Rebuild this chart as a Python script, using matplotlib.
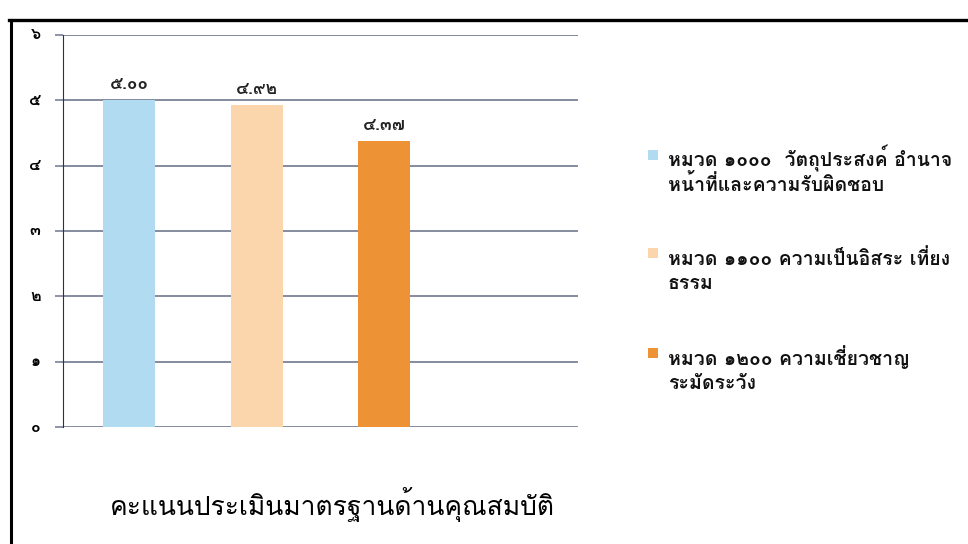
import matplotlib
matplotlib.use("Agg")
import matplotlib.pyplot as plt
from matplotlib import font_manager
from matplotlib.lines import Line2D
from matplotlib.patches import Rectangle

# ข้อมูลของกราฟ
หมวด = [
    "หมวด ๑๐๐๐  วัตถุประสงค์ อำนาจ\nหน้าที่และความรับผิดชอบ",
    "หมวด ๑๑๐๐ ความเป็นอิสระ เที่ยง\nธรรม",
    "หมวด ๑๒๐๐ ความเชี่ยวชาญ\nระมัดระวัง",
]
คะแนน = [5.00, 4.92, 4.37]
สี = ["#B1DBF1", "#FBD6AC", "#EE9236"]
แกน_y = [0, 1, 2, 3, 4, 5, 6]
ชื่อกราฟ = "คะแนนประเมินมาตรฐานด้านคุณสมบัติ"

thai_digits = str.maketrans("0123456789", "๐๑๒๓๔๕๖๗๘๙")

# เลือกฟอนต์ไทยที่มีอยู่ในเครื่อง
names = {f.name for f in font_manager.fontManager.ttflist}
prefs = ["Tahoma", "Loma", "Garuda", "Noto Sans Thai", "Sarabun", "Bai Jamjuree"]
thai_font = next((p for p in prefs if p in names), "DejaVu Sans")
plt.rcParams["font.family"] = [thai_font, "DejaVu Sans"]

W, H = 968, 544
fig = plt.figure(figsize=(W / 100, H / 100), dpi=100)
ax = fig.add_axes([0.065, 0.215, 0.532, 0.721])

x = list(range(len(คะแนน)))
ax.bar(x, คะแนน, width=0.41, color=สี, zorder=3)
for xi, v in zip(x, คะแนน):
    ax.text(xi, v + 0.24, f"{v:.2f}".translate(thai_digits), ha="center",
            va="center", fontsize=12.5, fontweight="bold", color="#222222")

ax.set_xlim(-0.52, 3.52)
ax.set_ylim(0, 6)
ax.set_yticks(แกน_y)
ax.set_yticklabels([str(t).translate(thai_digits) for t in แกน_y],
                   va="center", fontsize=11.5, fontweight="bold")
ax.tick_params(axis="y", length=6, width=1.2, color="#7A8296", pad=10)
ax.tick_params(axis="x", length=0, labelbottom=False)
ax.yaxis.grid(True, color="#7A8296", linewidth=1.3, zorder=0)
for s in ["top", "right", "bottom"]:
    ax.spines[s].set_visible(False)
ax.spines["left"].set_color("#2A2F5A")
ax.spines["left"].set_linewidth(0.8)

# คำอธิบายสัญลักษณ์ (วาดเองเพื่อให้สี่เหลี่ยมอยู่ระดับบรรทัดแรก)
first_line_y = [161, 259, 359]
line_gap = 24
for label, c, yc in zip(หมวด, สี, first_line_y):
    fig.patches.append(Rectangle((648 / W, 1 - (yc - 1) / H), 10 / W, 10 / H,
                                 facecolor=c, edgecolor="none",
                                 transform=fig.transFigure))
    for k, line in enumerate(label.split("\n")):
        fig.text(668 / W, 1 - (yc + 6 + k * line_gap) / H, line, ha="left",
                 va="baseline", fontsize=14, fontweight="bold", color="#111111")

fig.text(0.343, 0.072, ชื่อกราฟ, ha="center", va="center", fontsize=19)

# กรอบรอบรูป
fig.add_artist(Line2D([0.009, 1.0], [0.963, 0.963], color="black", linewidth=2.4,
                      transform=fig.transFigure))
fig.add_artist(Line2D([0.011, 0.011], [0.0, 0.963], color="black", linewidth=2.2,
                      transform=fig.transFigure))

fig.savefig("out.png", dpi=100)
